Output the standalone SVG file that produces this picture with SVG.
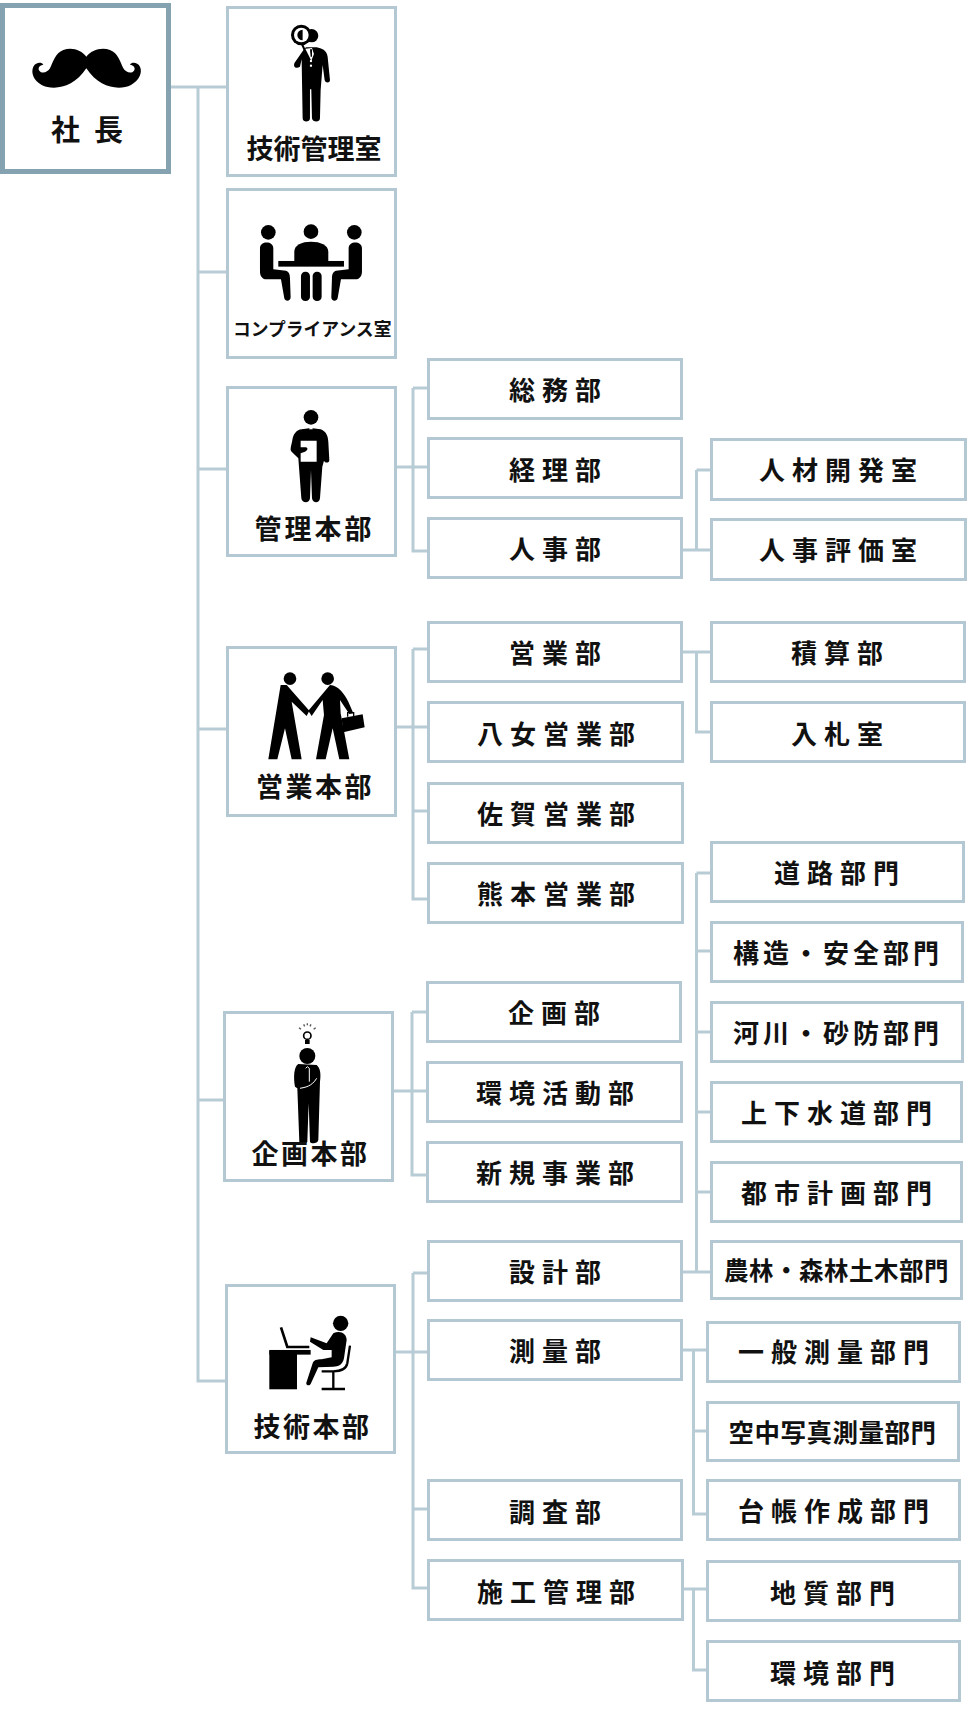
<svg xmlns="http://www.w3.org/2000/svg" width="978" height="1709" viewBox="0 0 978 1709">
<style>
text{font-family:"Noto Sans CJK JP","Noto Sans",sans-serif;font-weight:700;font-size:26px;fill:#111;letter-spacing:7px}
.b{fill:#fff;stroke:#b3c8d3;stroke-width:3}
.c{fill:none;stroke:#b8ccd6;stroke-width:3}
.k{fill:#000}
</style>
<rect width="978" height="1709" fill="#fff"/>
<g id="connectors" class="c">
<path d="M171 87H226M198 87V1381H226M198 272H226M198 469H226M198 729H226M198 1100H223"/>
<path d="M397 467H428M413 388H428M413 388V551H428"/>
<path d="M397 727H428M413 649H428M413 649V899H428M413 811H428"/>
<path d="M394 1091H427M412 1012H427M412 1012V1175H427"/>
<path d="M396 1352H428M413 1273H428M413 1273V1588H428M413 1509H428"/>
<path d="M682 550H710M696.5 470H710M696.5 470V550"/>
<path d="M682 652H710M696.5 652V732H710"/>
<path d="M696.5 873H710M696.5 873V1272M696.5 951H710M696.5 1032H710M696.5 1112H710M696.5 1192H710M682 1272H710"/>
<path d="M682 1350H706M693.5 1350V1514H706M693.5 1431H706"/>
<path d="M683 1589H706M693.5 1589V1670H706"/>
</g>
<g id="n-president"><rect x="2.5" y="5.5" width="166" height="166" fill="#fff" stroke="#84a2b0" stroke-width="5"/>
<path class="k" transform="scale(.3333)" d="M259 170C245 150 215 140 190 150C165 160 160 185 150 205C143 218 125 222 118 212C112 204 120 195 130 194C125 186 108 186 100 200C92 218 100 240 125 255C160 272 220 265 259 205C298 265 358 272 393 255C418 240 428 218 420 200C412 186 395 186 390 194C400 195 408 204 402 212C395 222 377 218 370 205C360 185 355 160 330 150C305 140 273 150 259 170Z"/>
<text x="51" y="141" style="font-size:29px;letter-spacing:14px">社長</text></g>
<g id="n-gijutsukanri"><rect class="b" x="227.5" y="7.5" width="168" height="168"/>
<g transform="scale(.3333)"><path class="k" d="M918 142L950 142C965 145 980 150 983 170L990 240C990 250 976 250 974 240L968 195L962 270L960 355C960 368 938 368 936 355L934 268L930 268L930 355C930 368 908 368 908 355L905 178L900 200C888 208 878 200 884 188L912 148Z"/><path d="M906 132L914 150" stroke="#000" stroke-width="6"/>
<path d="M916 146L924 162L934 182L942 162L936 144" fill="#fff"/><path class="k" d="M930 148H936V170H932Z"/><circle cx="933" cy="183" r="3.5" fill="#fff"/><circle cx="933" cy="197" r="3.5" fill="#fff"/>
<circle class="k" cx="935" cy="107" r="20"/><circle class="k" cx="904" cy="105" r="31"/><circle cx="904" cy="105" r="22" fill="#fff"/><path class="k" d="M908 89A16 16 0 0 0 908 121Z"/></g>
<text x="246.5" y="159" style="font-size:27px;letter-spacing:0">技術管理室</text></g>
<g id="n-compliance"><rect class="b" x="227.5" y="189.5" width="168" height="168"/>
<g class="k" transform="scale(.3333)"><circle cx="805" cy="697" r="22"/><circle cx="933" cy="695" r="22"/><circle cx="1063" cy="697" r="22"/>
<path d="M883 785L883 755C883 735 905 725 933 725C961 725 985 735 985 755L985 785Z"/><rect x="835" y="783" width="197" height="17"/><rect x="903" y="815" width="27" height="88" rx="13"/><rect x="938" y="815" width="27" height="88" rx="13"/>
<path d="M780 745C780 722 820 722 820 745L820 808L858 812C868 815 870 825 870 835L872 892C872 905 855 905 853 895L843 838L800 838C785 838 780 825 780 815Z"/><path transform="translate(1866 0) scale(-1 1)" d="M780 745C780 722 820 722 820 745L820 808L858 812C868 815 870 825 870 835L872 892C872 905 855 905 853 895L843 838L800 838C785 838 780 825 780 815Z"/></g>
<text x="233" y="336" style="font-size:17.8px;letter-spacing:0">コンプライアンス室</text></g>
<g id="n-kanri"><rect class="b" x="227.5" y="387.5" width="168" height="168"/>
<g transform="translate(190 370) scale(.3333)"><circle class="k" cx="363" cy="142" r="22"/><path class="k" d="M335 178L358 175L363 190L368 175L392 178C410 185 414 200 415 215L418 270C418 280 405 280 402 272L397 290L390 385C388 402 368 400 366 385L363 300L360 385C358 402 336 400 334 385L325 265L305 245C298 240 305 225 308 205C312 190 320 180 335 178Z"/><path fill="#fff" d="M332 212H380V275H332V250L345 245C355 240 355 232 345 232L332 232Z"/><path class="k" d="M360 178H367L368 200L363 206L359 200Z"/></g>
<text x="254.5" y="539" style="font-size:27px;letter-spacing:3px">管理本部</text></g>
<g id="n-eigyo"><rect class="b" x="227.5" y="647.5" width="168" height="168"/>
<g class="k" transform="translate(190 370) scale(.3333)"><circle cx="300" cy="926" r="19"/><circle cx="413" cy="926" r="19"/>
<path d="M272 945L290 945L358 1022L350 1038L305 995L335 1168L305 1168L285 1075L262 1168L235 1168Z"/><path d="M420 945C445 945 465 975 475 995L490 1030L478 1032L450 990L452 1030L478 1168L448 1168L428 1075L407 1168L378 1168L402 1035L398 990L365 1038L355 1022Z"/><path d="M455 1045L518 1033L524 1072L460 1087Z"/><path d="M473 1040V1028H491V1038" fill="none" stroke="#000" stroke-width="4"/></g>
<text x="256" y="797" style="font-size:27px;letter-spacing:2.5px">営業本部</text></g>
<g id="n-kikaku"><rect class="b" x="224.5" y="1012.5" width="168" height="168"/>
<g transform="translate(190 1000) scale(.3333)"><circle cx="352" cy="107" r="11" fill="none" stroke="#000" stroke-width="5"/><path d="M345 120H359V132H345Z" class="k"/><path d="M327 83L333 88M341 73L344 79M352 70V76M363 73L360 79M377 83L371 88" stroke="#555" stroke-width="4" fill="none"/>
<circle class="k" cx="352" cy="168" r="24"/><path class="k" d="M325 192L380 195C392 205 393 225 390 245L385 420C383 432 362 432 360 425L356 310L352 425C350 432 330 432 328 425L322 265L315 260C310 230 312 200 325 192Z"/><path d="M330 265C345 262 365 260 380 235M347 205L352 200L358 205V245" fill="none" stroke="#fff" stroke-width="3"/></g>
<text x="251.5" y="1164" style="font-size:27px;letter-spacing:2.5px">企画本部</text></g>
<g id="n-gijutsu"><rect class="b" x="226.5" y="1285.5" width="168" height="167"/>
<g transform="translate(190 1000) scale(.3333)"><circle class="k" cx="452" cy="970" r="23"/><rect class="k" x="238" y="1052" width="83" height="116"/><rect class="k" x="238" y="1050" width="124" height="14"/><path d="M273 982L292 1041H358" fill="none" stroke="#000" stroke-width="8"/>
<path class="k" d="M362 1012L410 1030L430 1000C450 990 470 1000 470 1020L462 1075C458 1095 445 1100 430 1100L385 1102L362 1152C358 1160 345 1155 350 1145L368 1090C372 1080 380 1078 395 1078L425 1072L425 1050L400 1050L360 1025Z"/><path d="M480 1037L472 1090C468 1110 450 1114 430 1114L395 1114M430 1114V1164M395 1167H465" fill="none" stroke="#000" stroke-width="7"/></g>
<text x="253.5" y="1437" style="font-size:27px;letter-spacing:2.5px">技術本部</text></g>
<g id="n-somu"><rect class="b" x="428.5" y="359.5" width="253" height="59"/><text x="509" y="400">総務部</text></g>
<g id="n-keiri"><rect class="b" x="428.5" y="438.5" width="253" height="59"/><text x="509" y="480">経理部</text></g>
<g id="n-jinji"><rect class="b" x="428.5" y="518.5" width="253" height="59"/><text x="509" y="559">人事部</text></g>
<g id="n-eigyobu"><rect class="b" x="428.5" y="622.5" width="253" height="59"/><text x="509" y="663">営業部</text></g>
<g id="n-yame"><rect class="b" x="428.5" y="702.5" width="254" height="59"/><text x="477" y="744">八女営業部</text></g>
<g id="n-saga"><rect class="b" x="428.5" y="783.5" width="254" height="59"/><text x="477" y="824">佐賀営業部</text></g>
<g id="n-kumamoto"><rect class="b" x="428.5" y="863.5" width="254" height="59"/><text x="477" y="904">熊本営業部</text></g>
<g id="n-kikakubu"><rect class="b" x="427.5" y="982.5" width="253" height="59"/><text x="508" y="1023">企画部</text></g>
<g id="n-kankyokatsudo"><rect class="b" x="427.5" y="1062.5" width="254" height="59"/><text x="476" y="1103">環境活動部</text></g>
<g id="n-shinki"><rect class="b" x="427.5" y="1142.5" width="254" height="59"/><text x="476" y="1183">新規事業部</text></g>
<g id="n-sekkei"><rect class="b" x="428.5" y="1241.5" width="253" height="59"/><text x="509" y="1282">設計部</text></g>
<g id="n-sokuryo"><rect class="b" x="428.5" y="1320.5" width="253" height="59"/><text x="509" y="1361">測量部</text></g>
<g id="n-chosa"><rect class="b" x="428.5" y="1480.5" width="253" height="59"/><text x="509" y="1522">調査部</text></g>
<g id="n-seko"><rect class="b" x="428.5" y="1560.5" width="254" height="59"/><text x="477" y="1602">施工管理部</text></g>
<g id="n-jinzai"><rect class="b" x="711.5" y="439.5" width="254" height="60"/><text x="759" y="480">人材開発室</text></g>
<g id="n-hyoka"><rect class="b" x="711.5" y="519.5" width="254" height="60"/><text x="759" y="560">人事評価室</text></g>
<g id="n-sekisan"><rect class="b" x="711.5" y="622.5" width="253" height="59"/><text x="791" y="663">積算部</text></g>
<g id="n-nyusatsu"><rect class="b" x="711.5" y="702.5" width="253" height="59"/><text x="791" y="744">入札室</text></g>
<g id="n-doro"><rect class="b" x="711.5" y="842.5" width="252" height="59"/><text x="774" y="883">道路部門</text></g>
<g id="n-kozo"><rect class="b" x="711.5" y="922.5" width="251" height="59"/><text x="733" y="963" style="letter-spacing:4px">構造・安全部門</text></g>
<g id="n-kasen"><rect class="b" x="711.5" y="1002.5" width="251" height="59"/><text x="733" y="1043" style="letter-spacing:4px">河川・砂防部門</text></g>
<g id="n-gesui"><rect class="b" x="711.5" y="1082.5" width="250" height="59"/><text x="741" y="1123">上下水道部門</text></g>
<g id="n-toshi"><rect class="b" x="711.5" y="1162.5" width="250" height="59"/><text x="741" y="1203">都市計画部門</text></g>
<g id="n-norin"><rect class="b" x="711.5" y="1241.5" width="250" height="57"/><text x="724" y="1280" style="font-size:24.5px;letter-spacing:.5px">農林・森林土木部門</text></g>
<g id="n-ippan"><rect class="b" x="707.5" y="1322.5" width="252" height="59"/><text x="738" y="1362">一般測量部門</text></g>
<g id="n-kuchu"><rect class="b" x="707.5" y="1402.5" width="251" height="58"/><text x="728.5" y="1442" style="font-size:25.5px;letter-spacing:.5px">空中写真測量部門</text></g>
<g id="n-daicho"><rect class="b" x="707.5" y="1480.5" width="252" height="59"/><text x="738" y="1521">台帳作成部門</text></g>
<g id="n-chishitsu"><rect class="b" x="707.5" y="1561.5" width="252" height="59"/><text x="770" y="1603">地質部門</text></g>
<g id="n-kankyo"><rect class="b" x="707.5" y="1641.5" width="252" height="59"/><text x="770" y="1683">環境部門</text></g>
</svg>
